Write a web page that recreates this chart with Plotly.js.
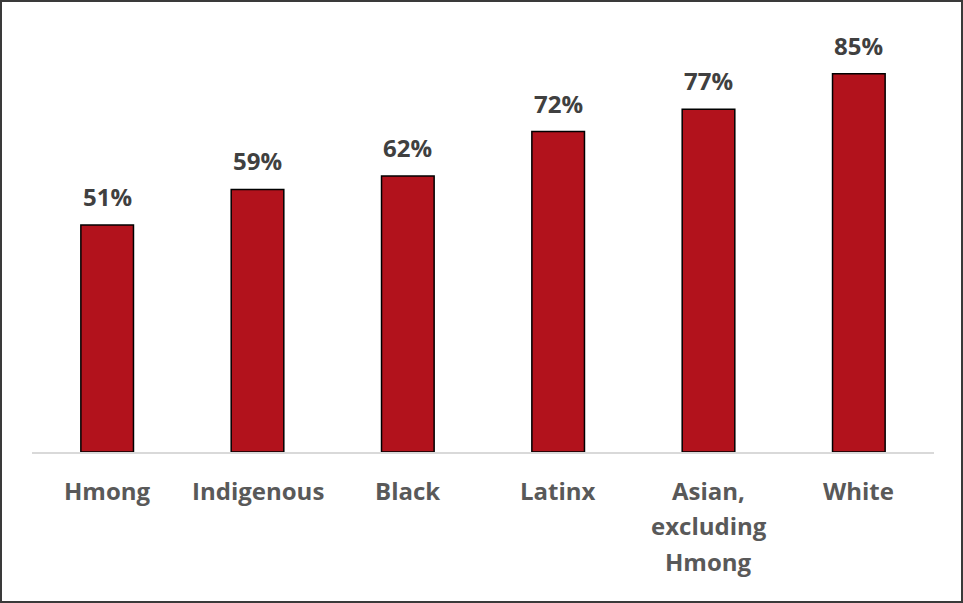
<!DOCTYPE html>
<html><head><meta charset="utf-8">
<script src="https://cdn.plot.ly/plotly-3.0.1.min.js"></script>
<style>
html,body{margin:0;padding:0;background:#fff;}
#wrap{width:963px;height:603px;box-sizing:border-box;border:2px solid #3a3a3a;background:#fff;}
#chart{width:959px;height:599px;}
</style></head>
<body><div id="wrap"><div id="chart"></div></div>
<script>
var categories = ["Hmong", "Indigenous", "Black", "Latinx", "Asian, excluding Hmong", "White"];
var categoryLines = [["Hmong"], ["Indigenous"], ["Black"], ["Latinx"], ["Asian,", "excluding", "Hmong"], ["White"]];
var values = [51, 59, 62, 72, 77, 85];
var valueLabels = ["51%", "59%", "62%", "72%", "77%", "85%"];

var trace = {
  type: 'bar', x: categories, y: values,
  marker: {color: '#B2121C', line: {color: '#000000', width: 1.5}},
  width: 0.35, hoverinfo: 'skip'
};
var annotations = categories.map(function(c, i){
  return {x: c, y: values[i], xref: 'x', yref: 'y', text: valueLabels[i], showarrow: false,
    yanchor: 'bottom', yshift: 10, font: {family: 'Open Sans', size: 24, color: '#404040', weight: 700}};
});
categoryLines.forEach(function(lines, i){
  lines.forEach(function(t, j){
    annotations.push({x: categories[i], y: 0, xref: 'x', yref: 'paper', text: t, showarrow: false,
      yanchor: 'middle', yshift: -38 - j * 35.5,
      font: {family: 'Open Sans', size: 24, color: '#595959', weight: 700}});
  });
});
var layout = {
  width: 959, height: 599,
  margin: {l: 30, r: 27, t: 5, b: 149},
  paper_bgcolor: '#fff', plot_bgcolor: '#fff',
  showlegend: false, bargap: 0.65,
  xaxis: {type: 'category', showgrid: false, zeroline: false, showline: true, linecolor: '#d9d9d9', linewidth: 1.5,
    showticklabels: false, ticks: ''},
  yaxis: {range: [0, 100], visible: false, showgrid: false, zeroline: false},
  annotations: annotations
};
Plotly.newPlot('chart', [trace], layout, {displayModeBar: false, staticPlot: true});
</script></body></html>
